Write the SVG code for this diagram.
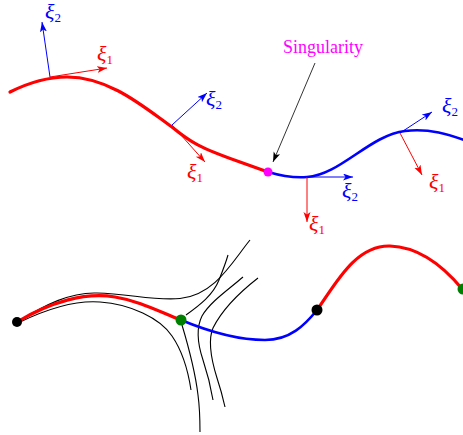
<svg xmlns="http://www.w3.org/2000/svg" width="463" height="435" viewBox="0 0 463 435">
<style>
.bg{fill:#fff}
.red{fill:none;stroke:#f00;stroke-width:3.2;stroke-linecap:round}
.blue{fill:none;stroke:#00f;stroke-width:2.6;stroke-linecap:round}
.thin{fill:none;stroke:#000;stroke-width:1.1}
.ar{fill:none;stroke:#f00;stroke-width:1}
.ab{fill:none;stroke:#00f;stroke-width:1}
.ak{fill:none;stroke:#000;stroke-width:0.8}
.lab{font-family:"Liberation Serif","DejaVu Serif",serif;font-size:22px;font-style:italic}
.sub{font-size:13px;font-style:normal}
.lr{fill:#f00}
.lb{fill:#00f}
.sing{font-family:"Liberation Serif","DejaVu Serif",serif;font-size:18px;fill:#f0f}
</style>
<defs>
<marker id="hr" markerUnits="userSpaceOnUse" markerWidth="12" markerHeight="8" refX="10" refY="3.5" orient="auto"><path d="M0,0 L10,3.5 L0,7 L2.5,3.5 z" fill="#f00"/></marker>
<marker id="hb" markerUnits="userSpaceOnUse" markerWidth="12" markerHeight="8" refX="10" refY="3.5" orient="auto"><path d="M0,0 L10,3.5 L0,7 L2.5,3.5 z" fill="#00f"/></marker>
<marker id="hk" markerUnits="userSpaceOnUse" markerWidth="12" markerHeight="8" refX="10" refY="3.5" orient="auto"><path d="M0,0 L10,3.5 L0,7 L2.5,3.5 z" fill="#000"/></marker>
</defs>
<rect class="bg" x="0" y="0" width="463" height="435"/>

<g id="top-curve">
<path class="red" d="M10,92 C28,83 48,77 67,77 C110,77 145,108 172,127 C190,142 200,148 240,162 L268,172"/>
<path class="blue" d="M268,172 C285,177 295,178 307,177 C340,175 370,135 405,131 C430,128 450,135 464,140"/>
</g>

<g id="connectors">
<line class="ab" x1="50" y1="77" x2="42" y2="22" marker-end="url(#hb)"/>
<line class="ar" x1="50" y1="77" x2="107" y2="68" marker-end="url(#hr)"/>
<line class="ab" x1="172" y1="125" x2="207" y2="93" marker-end="url(#hb)"/>
<line class="ar" x1="172" y1="125" x2="205" y2="162" marker-end="url(#hr)"/>
<line class="ar" x1="307" y1="177" x2="307" y2="222" marker-end="url(#hr)"/>
<line class="ab" x1="307" y1="177" x2="353" y2="177" marker-end="url(#hb)"/>
<line class="ab" x1="400" y1="133" x2="432" y2="112" marker-end="url(#hb)"/>
<line class="ar" x1="400" y1="133" x2="422" y2="175" marker-end="url(#hr)"/>
<line class="ak" x1="315" y1="63" x2="273" y2="162" marker-end="url(#hk)"/>
</g>

<g id="singularity">
<circle cx="268" cy="172" r="4.5" fill="#f0f"/>
<text class="sing" x="283" y="53">Singularity</text>
</g>

<g id="labels">
<text class="lab lb" x="45" y="19">ξ<tspan class="sub" dy="3">2</tspan></text>
<text class="lab lr" x="97" y="61">ξ<tspan class="sub" dy="3">1</tspan></text>
<text class="lab lb" x="206" y="106">ξ<tspan class="sub" dy="3">2</tspan></text>
<text class="lab lr" x="187" y="179">ξ<tspan class="sub" dy="3">1</tspan></text>
<text class="lab lb" x="342" y="198">ξ<tspan class="sub" dy="3">2</tspan></text>
<text class="lab lr" x="309" y="231">ξ<tspan class="sub" dy="3">1</tspan></text>
<text class="lab lb" x="442" y="113">ξ<tspan class="sub" dy="3">2</tspan></text>
<text class="lab lr" x="429" y="189">ξ<tspan class="sub" dy="3">1</tspan></text>
</g>

<g id="level-curves">
<path class="thin" d="M19,321 C45,305 70,292 97,293 C130,294 155,301 180,298.5 C215,295 232,262 250,240"/>
<path class="thin" d="M20,322 C45,310 75,300 100,302 C130,304 160,318 172,336 C183,352 188,370 191,390"/>
<path class="thin" d="M186,315 C200,305 213,295 219,280 C223,270 226,262 228,255"/>
<path class="thin" d="M182,325 C188,345 195,370 198,395 C200,410 200,420 200,432"/>
<path class="thin" d="M243,277 C228,290 210,302 202,316 C196,328 198,345 203,360 C208,375 211,388 213,400"/>
<path class="thin" d="M258,278 C240,292 222,310 213,328 C207,342 212,362 217,378 C221,390 223,398 225,407"/>
</g>

<g id="bottom-curve">
<path class="red" d="M17,322 C50,302 85,292 115,297 C140,301 160,312 181,320"/>
<path class="blue" d="M181,320 C205,330 235,340 265,340 C290,340 305,325 317,310"/>
<path class="red" d="M317,310 C335,285 355,245 390,246 C420,247 445,268 463,290"/>
</g>

<g id="node-start"><circle cx="17" cy="322" r="5" fill="#000"/></g>
<g id="node-saddle1"><circle cx="181" cy="320" r="5.5" fill="#008000"/></g>
<g id="node-mid"><circle cx="317" cy="310" r="5.5" fill="#000"/></g>
<g id="node-saddle2"><circle cx="463" cy="289" r="5.5" fill="#008000"/></g>
</svg>
